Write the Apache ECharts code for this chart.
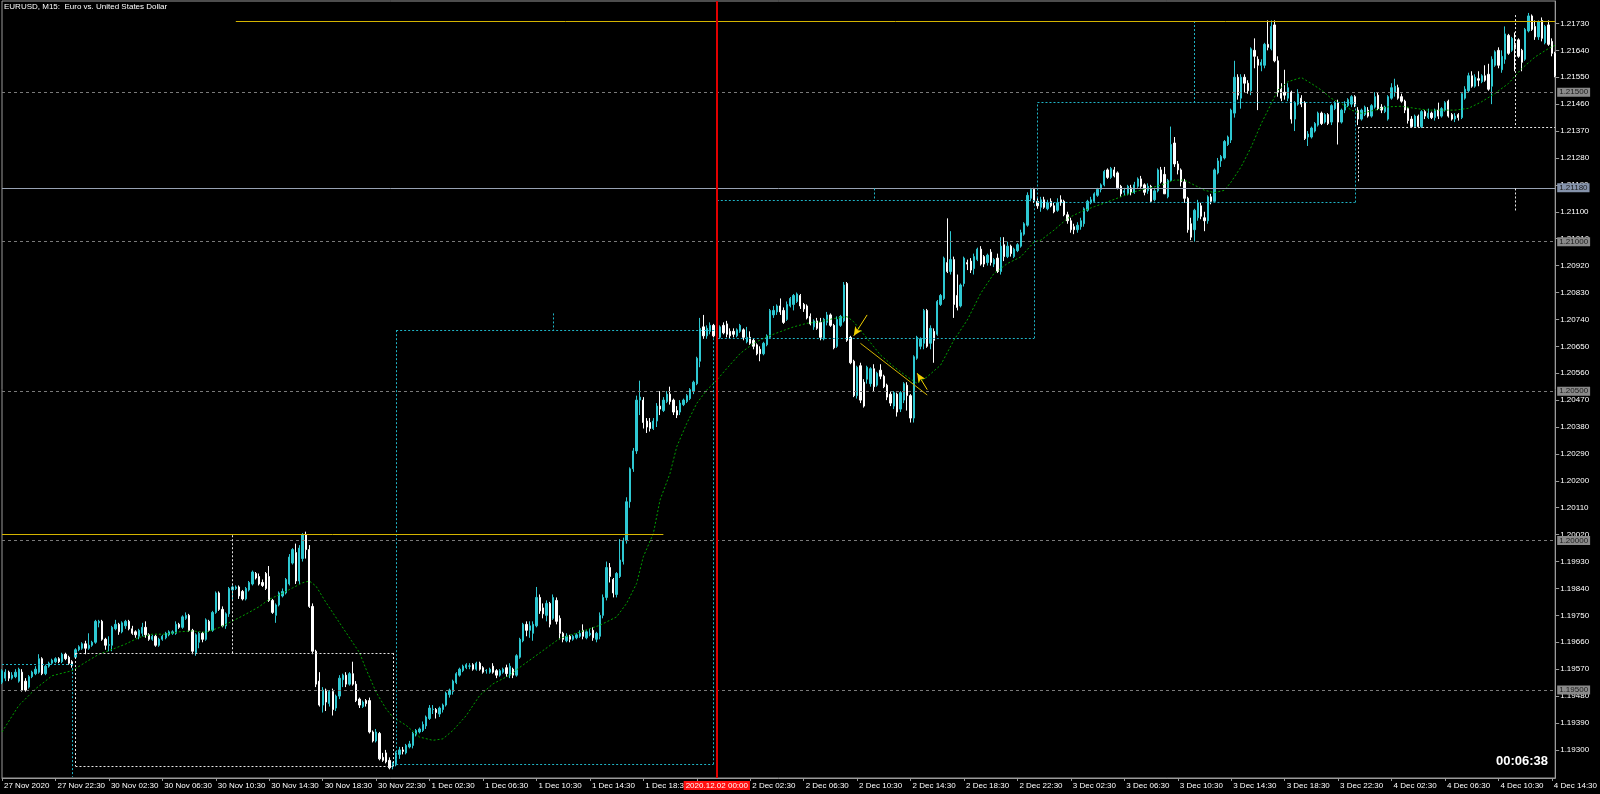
<!DOCTYPE html>
<html>
<head>
<meta charset="utf-8">
<title>EURUSD M15</title>
<script src="https://cdn.jsdelivr.net/npm/echarts@6/dist/echarts.min.js"></script>
<style>
  html, body { margin: 0; padding: 0; background: #000; }
  #chart { width: 1600px; height: 794px; }
</style>
</head>
<body>
<div id="chart"></div>
<script>
// M15 candles, [open, close, low, high]
const nov27 = [
  [1.19526,1.19565,1.19520,1.19570],[1.19540,1.19560,1.19530,1.19570],[1.19560,1.19540,1.19530,1.19565],[1.19540,1.19550,1.19535,1.19560],
  [1.19545,1.19560,1.19540,1.19570],[1.19530,1.19570,1.19525,1.19575],[1.19560,1.19500,1.19495,1.19570],[1.19530,1.19500,1.19495,1.19540],
  [1.19510,1.19545,1.19505,1.19550],[1.19545,1.19560,1.19540,1.19565],[1.19555,1.19570,1.19550,1.19580],[1.19560,1.19605,1.19555,1.19620],
  [1.19605,1.19555,1.19550,1.19610],[1.19555,1.19580,1.19550,1.19585],[1.19580,1.19590,1.19575,1.19595],[1.19590,1.19600,1.19585,1.19605],
  [1.19595,1.19605,1.19590,1.19610],[1.19605,1.19595,1.19590,1.19610],[1.19595,1.19620,1.19590,1.19625],[1.19620,1.19605,1.19600,1.19625],
  [1.19610,1.19590,1.19585,1.19615],[1.19595,1.19585,1.19575,1.19600]
]
const nov30 = [
  [1.19610,1.19635,1.19605,1.19640],[1.19635,1.19645,1.19630,1.19650],[1.19640,1.19655,1.19635,1.19660],[1.19655,1.19640,1.19620,1.19665],
  [1.19640,1.19650,1.19635,1.19690],[1.19650,1.19660,1.19645,1.19665],[1.19660,1.19730,1.19655,1.19735],[1.19725,1.19730,1.19710,1.19735],
  [1.19730,1.19670,1.19665,1.19735],[1.19670,1.19650,1.19635,1.19675],[1.19650,1.19652,1.19630,1.19680],[1.19650,1.19710,1.19630,1.19715],
  [1.19705,1.19720,1.19700,1.19735],[1.19720,1.19695,1.19685,1.19725],[1.19695,1.19725,1.19690,1.19730],[1.19715,1.19730,1.19705,1.19735],
  [1.19730,1.19705,1.19700,1.19735],[1.19705,1.19690,1.19685,1.19715],[1.19695,1.19685,1.19675,1.19700],[1.19680,1.19700,1.19670,1.19705],
  [1.19690,1.19710,1.19680,1.19725],[1.19710,1.19685,1.19675,1.19730],[1.19685,1.19670,1.19665,1.19690],[1.19670,1.19680,1.19665,1.19685],
  [1.19680,1.19650,1.19645,1.19685],[1.19650,1.19670,1.19645,1.19675],[1.19670,1.19680,1.19665,1.19685],[1.19675,1.19690,1.19670,1.19695],
  [1.19685,1.19695,1.19680,1.19700],[1.19690,1.19695,1.19685,1.19700],[1.19690,1.19720,1.19685,1.19730],[1.19720,1.19710,1.19705,1.19725],
  [1.19710,1.19745,1.19705,1.19750],[1.19740,1.19750,1.19735,1.19760],[1.19750,1.19700,1.19695,1.19755],[1.19700,1.19630,1.19620,1.19705],
  [1.19625,1.19685,1.19615,1.19690],[1.19660,1.19690,1.19640,1.19695],[1.19690,1.19670,1.19660,1.19695],[1.19670,1.19735,1.19665,1.19740],
  [1.19730,1.19700,1.19695,1.19735],[1.19700,1.19760,1.19695,1.19765],[1.19760,1.19825,1.19755,1.19830],[1.19825,1.19770,1.19765,1.19830],
  [1.19770,1.19715,1.19710,1.19780],[1.19715,1.19755,1.19705,1.19760],[1.19755,1.19840,1.19745,1.19845],[1.19835,1.19845,1.19800,1.19850],
  [1.19840,1.19845,1.19835,1.19850],[1.19845,1.19815,1.19805,1.19850],[1.19830,1.19805,1.19800,1.19835],[1.19805,1.19840,1.19800,1.19845],
  [1.19835,1.19860,1.19830,1.19865],[1.19855,1.19895,1.19850,1.19900],[1.19890,1.19875,1.19870,1.19895],[1.19880,1.19855,1.19850,1.19890],
  [1.19860,1.19850,1.19845,1.19870],[1.19890,1.19840,1.19835,1.19895],[1.19880,1.19800,1.19795,1.19915],[1.19800,1.19760,1.19755,1.19805],
  [1.19750,1.19785,1.19725,1.19790],[1.19785,1.19825,1.19780,1.19830],[1.19815,1.19830,1.19810,1.19840],[1.19825,1.19870,1.19820,1.19875],
  [1.19855,1.19945,1.19850,1.19955],[1.19925,1.19970,1.19920,1.19975],[1.19960,1.19865,1.19855,1.19990],[1.19865,1.19975,1.19855,1.19985],
  [1.19940,1.20020,1.19930,1.20025],[1.20020,1.19970,1.19940,1.20030],[1.19970,1.19780,1.19775,1.19985],[1.19780,1.19630,1.19620,1.19790],
  [1.19630,1.19520,1.19510,1.19635],[1.19530,1.19450,1.19445,1.19560],[1.19450,1.19500,1.19425,1.19510],[1.19500,1.19460,1.19430,1.19505],
  [1.19455,1.19495,1.19445,1.19500],[1.19495,1.19435,1.19415,1.19505],[1.19440,1.19480,1.19430,1.19485],[1.19480,1.19540,1.19470,1.19550],
  [1.19535,1.19550,1.19510,1.19555],[1.19550,1.19520,1.19510,1.19560],[1.19520,1.19555,1.19515,1.19560],[1.19555,1.19520,1.19515,1.19595],
  [1.19520,1.19465,1.19460,1.19530],[1.19470,1.19450,1.19440,1.19475],[1.19445,1.19460,1.19440,1.19465],[1.19465,1.19455,1.19445,1.19470],
  [1.19465,1.19360,1.19355,1.19475],[1.19360,1.19330,1.19325,1.19365],[1.19330,1.19360,1.19325,1.19370],[1.19355,1.19270,1.19265,1.19360],
  [1.19275,1.19265,1.19260,1.19290],[1.19290,1.19260,1.19255,1.19300],[1.19265,1.19240,1.19235,1.19275],[1.19245,1.19255,1.19235,1.19260]
]
const dec01 = [
  [1.19250,1.19290,1.19245,1.19295],[1.19285,1.19300,1.19270,1.19310],[1.19300,1.19295,1.19285,1.19310],[1.19290,1.19315,1.19285,1.19320],
  [1.19310,1.19320,1.19305,1.19330],[1.19315,1.19355,1.19305,1.19360],[1.19350,1.19365,1.19345,1.19370],[1.19360,1.19370,1.19355,1.19375],
  [1.19365,1.19385,1.19360,1.19395],[1.19380,1.19410,1.19370,1.19415],[1.19405,1.19440,1.19400,1.19450],[1.19435,1.19436,1.19420,1.19450],
  [1.19435,1.19425,1.19405,1.19440],[1.19420,1.19440,1.19410,1.19445],[1.19435,1.19450,1.19425,1.19455],[1.19450,1.19490,1.19445,1.19495],
  [1.19485,1.19500,1.19475,1.19505],[1.19495,1.19530,1.19485,1.19535],[1.19525,1.19555,1.19520,1.19560],[1.19550,1.19570,1.19545,1.19575],
  [1.19565,1.19580,1.19560,1.19585],[1.19575,1.19585,1.19570,1.19590],[1.19580,1.19581,1.19570,1.19590],[1.19585,1.19570,1.19565,1.19590],
  [1.19570,1.19590,1.19565,1.19595],[1.19590,1.19570,1.19565,1.19595],[1.19575,1.19560,1.19555,1.19580],[1.19565,1.19566,1.19555,1.19570],
  [1.19560,1.19570,1.19555,1.19575],[1.19580,1.19560,1.19555,1.19590],[1.19565,1.19550,1.19540,1.19570],[1.19550,1.19565,1.19545,1.19570],
  [1.19560,1.19570,1.19555,1.19575],[1.19575,1.19555,1.19545,1.19585],[1.19550,1.19580,1.19540,1.19590],[1.19570,1.19550,1.19540,1.19575],
  [1.19550,1.19615,1.19545,1.19620],[1.19610,1.19670,1.19605,1.19675],[1.19665,1.19720,1.19660,1.19725],[1.19720,1.19700,1.19680,1.19730],
  [1.19700,1.19715,1.19675,1.19730],[1.19690,1.19720,1.19665,1.19730],[1.19715,1.19810,1.19710,1.19845],[1.19810,1.19765,1.19755,1.19820],
  [1.19775,1.19755,1.19740,1.19790],[1.19750,1.19790,1.19730,1.19800],[1.19790,1.19720,1.19710,1.19795],[1.19740,1.19810,1.19735,1.19820],
  [1.19800,1.19730,1.19720,1.19810],[1.19740,1.19690,1.19670,1.19750],[1.19690,1.19670,1.19660,1.19695],[1.19665,1.19680,1.19660,1.19690],
  [1.19680,1.19670,1.19660,1.19685],[1.19670,1.19680,1.19665,1.19685],[1.19675,1.19685,1.19670,1.19690],[1.19680,1.19690,1.19675,1.19700],
  [1.19700,1.19680,1.19670,1.19720],[1.19675,1.19695,1.19670,1.19700],[1.19685,1.19690,1.19680,1.19705],[1.19700,1.19675,1.19665,1.19710],
  [1.19670,1.19690,1.19660,1.19695],[1.19680,1.19750,1.19670,1.19760],[1.19750,1.19810,1.19740,1.19820],[1.19810,1.19910,1.19800,1.19930],
  [1.19910,1.19880,1.19860,1.19925],[1.19870,1.19825,1.19810,1.19875],[1.19820,1.19890,1.19810,1.19895],[1.19880,1.19935,1.19875,1.20005],
  [1.19930,1.20000,1.19920,1.20010],[1.20000,1.20130,1.19990,1.20145],[1.20130,1.20240,1.20110,1.20245],[1.20240,1.20300,1.20230,1.20310],
  [1.20300,1.20470,1.20290,1.20485],[1.20470,1.20480,1.20420,1.20535],[1.20470,1.20395,1.20375,1.20480],[1.20400,1.20380,1.20360,1.20410],
  [1.20395,1.20375,1.20365,1.20410],[1.20375,1.20400,1.20370,1.20410],[1.20400,1.20450,1.20380,1.20460],[1.20450,1.20440,1.20420,1.20500],
  [1.20435,1.20470,1.20430,1.20480],[1.20465,1.20490,1.20460,1.20500],[1.20490,1.20465,1.20455,1.20515],[1.20470,1.20430,1.20420,1.20475],
  [1.20435,1.20420,1.20410,1.20450],[1.20430,1.20460,1.20420,1.20470],[1.20455,1.20470,1.20450,1.20475],[1.20465,1.20485,1.20460,1.20490],
  [1.20475,1.20505,1.20470,1.20510],[1.20500,1.20530,1.20490,1.20535],[1.20525,1.20610,1.20520,1.20615],[1.20600,1.20710,1.20580,1.20745],
  [1.20715,1.20685,1.20675,1.20755],[1.20685,1.20710,1.20675,1.20720],[1.20700,1.20720,1.20690,1.20730],[1.20720,1.20685,1.20680,1.20725]
]
const dec02 = [
  [1.20680,1.20700,1.20675,1.20710],[1.20680,1.20715,1.20675,1.20720],[1.20720,1.20695,1.20690,1.20730],[1.20725,1.20690,1.20680,1.20735],
  [1.20700,1.20685,1.20675,1.20710],[1.20700,1.20690,1.20680,1.20710],[1.20685,1.20705,1.20680,1.20710],[1.20700,1.20720,1.20695,1.20725],
  [1.20705,1.20680,1.20670,1.20710],[1.20665,1.20680,1.20660,1.20715],[1.20680,1.20660,1.20655,1.20700],[1.20670,1.20650,1.20640,1.20675],
  [1.20655,1.20625,1.20620,1.20660],[1.20640,1.20625,1.20600,1.20650],[1.20625,1.20660,1.20620,1.20665],[1.20655,1.20685,1.20650,1.20690],
  [1.20680,1.20770,1.20675,1.20775],[1.20755,1.20770,1.20745,1.20785],[1.20765,1.20785,1.20755,1.20790],[1.20785,1.20765,1.20755,1.20810],
  [1.20770,1.20730,1.20725,1.20780],[1.20740,1.20790,1.20735,1.20800],[1.20785,1.20810,1.20780,1.20815],[1.20790,1.20820,1.20770,1.20825],
  [1.20800,1.20825,1.20795,1.20830],[1.20820,1.20785,1.20775,1.20825],[1.20790,1.20775,1.20765,1.20795],[1.20785,1.20745,1.20740,1.20790],
  [1.20750,1.20725,1.20720,1.20760],[1.20715,1.20735,1.20705,1.20740],[1.20735,1.20710,1.20705,1.20745],[1.20730,1.20680,1.20670,1.20745],
  [1.20675,1.20740,1.20670,1.20745],[1.20730,1.20755,1.20720,1.20765],[1.20755,1.20720,1.20715,1.20760],[1.20720,1.20645,1.20640,1.20725],
  [1.20650,1.20740,1.20645,1.20750],[1.20720,1.20750,1.20715,1.20755],[1.20735,1.20855,1.20730,1.20865],[1.20860,1.20670,1.20665,1.20865],
  [1.20680,1.20595,1.20590,1.20685],[1.20600,1.20485,1.20480,1.20605],[1.20485,1.20580,1.20475,1.20585],[1.20585,1.20470,1.20460,1.20595],
  [1.20530,1.20450,1.20445,1.20540],[1.20540,1.20580,1.20525,1.20585],[1.20525,1.20575,1.20515,1.20580],[1.20575,1.20515,1.20500,1.20590],
  [1.20520,1.20560,1.20515,1.20565],[1.20570,1.20550,1.20540,1.20590],[1.20550,1.20515,1.20510,1.20555],[1.20520,1.20480,1.20470,1.20525],
  [1.20490,1.20460,1.20450,1.20500],[1.20450,1.20495,1.20440,1.20500],[1.20490,1.20430,1.20415,1.20495],[1.20440,1.20495,1.20430,1.20500],
  [1.20470,1.20525,1.20460,1.20530],[1.20520,1.20485,1.20435,1.20530],[1.20485,1.20410,1.20395,1.20490],[1.20410,1.20615,1.20395,1.20620],
  [1.20610,1.20680,1.20605,1.20685],[1.20650,1.20675,1.20640,1.20680],[1.20660,1.20770,1.20640,1.20775],[1.20770,1.20650,1.20645,1.20775],
  [1.20660,1.20710,1.20640,1.20720],[1.20700,1.20670,1.20595,1.20710],[1.20690,1.20800,1.20685,1.20805],[1.20790,1.20820,1.20785,1.20825],
  [1.20810,1.20945,1.20805,1.20950],[1.20930,1.20900,1.20895,1.21078],[1.20900,1.20940,1.20890,1.21035],[1.20940,1.20790,1.20745,1.20950],
  [1.20820,1.20780,1.20770,1.20890],[1.20785,1.20855,1.20780,1.20860],[1.20860,1.20945,1.20850,1.20950],[1.20930,1.20925,1.20905,1.20940],
  [1.20935,1.20905,1.20895,1.20945],[1.20910,1.20950,1.20890,1.20960],[1.20940,1.20975,1.20935,1.20980],[1.20975,1.20925,1.20920,1.20985],
  [1.20950,1.20925,1.20915,1.20955],[1.20930,1.20955,1.20920,1.20960],[1.20965,1.20930,1.20920,1.20975],[1.20925,1.20940,1.20915,1.20945],
  [1.20945,1.20900,1.20895,1.20960],[1.20900,1.20985,1.20890,1.21015],[1.20990,1.20950,1.20935,1.21015],[1.20950,1.20985,1.20945,1.21000],
  [1.20985,1.20960,1.20950,1.20990],[1.20950,1.20975,1.20945,1.20980],[1.20970,1.20990,1.20965,1.20995],[1.20985,1.21030,1.20980,1.21040],
  [1.21025,1.21060,1.21020,1.21065],[1.21055,1.21155,1.21050,1.21165],[1.21145,1.21175,1.21135,1.21180],[1.21175,1.21135,1.21130,1.21180]
]
const dec03 = [
  [1.21135,1.21120,1.21110,1.21150],[1.21115,1.21140,1.21100,1.21150],[1.21140,1.21115,1.21110,1.21150],[1.21110,1.21130,1.21105,1.21140],
  [1.21135,1.21120,1.21115,1.21145],[1.21120,1.21100,1.21095,1.21130],[1.21105,1.21130,1.21100,1.21145],[1.21140,1.21130,1.21120,1.21155],
  [1.21135,1.21090,1.21085,1.21140],[1.21090,1.21070,1.21060,1.21100],[1.21070,1.21040,1.21030,1.21080],[1.21050,1.21040,1.21025,1.21060],
  [1.21040,1.21055,1.21030,1.21065],[1.21050,1.21070,1.21040,1.21080],[1.21060,1.21110,1.21050,1.21115],[1.21105,1.21135,1.21100,1.21140],
  [1.21130,1.21140,1.21125,1.21150],[1.21135,1.21160,1.21130,1.21165],[1.21155,1.21175,1.21150,1.21180],[1.21175,1.21190,1.21165,1.21195],
  [1.21190,1.21235,1.21185,1.21240],[1.21240,1.21215,1.21210,1.21245],[1.21215,1.21245,1.21210,1.21250],[1.21240,1.21220,1.21215,1.21250],
  [1.21230,1.21180,1.21175,1.21235],[1.21185,1.21160,1.21150,1.21190],[1.21165,1.21170,1.21155,1.21180],[1.21160,1.21185,1.21155,1.21190],
  [1.21180,1.21165,1.21155,1.21190],[1.21165,1.21190,1.21160,1.21200],[1.21185,1.21210,1.21180,1.21215],[1.21210,1.21185,1.21180,1.21220],
  [1.21190,1.21165,1.21155,1.21195],[1.21170,1.21185,1.21160,1.21195],[1.21185,1.21135,1.21130,1.21190],[1.21140,1.21170,1.21135,1.21180],
  [1.21170,1.21240,1.21165,1.21245],[1.21240,1.21200,1.21195,1.21250],[1.21225,1.21160,1.21160,1.21250],[1.21150,1.21205,1.21145,1.21210],
  [1.21205,1.21325,1.21200,1.21385],[1.21330,1.21260,1.21250,1.21350],[1.21260,1.21240,1.21225,1.21270],[1.21240,1.21200,1.21185,1.21245],
  [1.21200,1.21145,1.21130,1.21210],[1.21145,1.21040,1.21030,1.21150],[1.21060,1.21015,1.21005,1.21080],[1.21040,1.21105,1.21000,1.21110],
  [1.21080,1.21130,1.21070,1.21140],[1.21120,1.21085,1.21075,1.21130],[1.21080,1.21070,1.21035,1.21100],[1.21070,1.21150,1.21060,1.21155],
  [1.21150,1.21135,1.21125,1.21160],[1.21135,1.21240,1.21130,1.21245],[1.21230,1.21270,1.21225,1.21280],[1.21270,1.21285,1.21250,1.21290],
  [1.21280,1.21335,1.21275,1.21340],[1.21325,1.21350,1.21320,1.21355],[1.21340,1.21440,1.21330,1.21445],[1.21430,1.21550,1.21415,1.21605],
  [1.21550,1.21490,1.21475,1.21560],[1.21480,1.21550,1.21445,1.21560],[1.21550,1.21530,1.21500,1.21560],[1.21530,1.21505,1.21495,1.21540],
  [1.21505,1.21645,1.21490,1.21650],[1.21640,1.21620,1.21580,1.21680],[1.21610,1.21590,1.21440,1.21620],[1.21590,1.21600,1.21570,1.21610],
  [1.21590,1.21660,1.21580,1.21665],[1.21660,1.21650,1.21640,1.21740],[1.21645,1.21720,1.21640,1.21740],[1.21725,1.21605,1.21600,1.21740],
  [1.21605,1.21500,1.21485,1.21620],[1.21510,1.21480,1.21470,1.21530],[1.21500,1.21490,1.21475,1.21575],[1.21480,1.21515,1.21470,1.21530],
  [1.21500,1.21410,1.21395,1.21505],[1.21410,1.21465,1.21370,1.21470],[1.21460,1.21495,1.21455,1.21510],[1.21480,1.21460,1.21450,1.21490],
  [1.21465,1.21345,1.21340,1.21470],[1.21350,1.21360,1.21320,1.21370],[1.21350,1.21380,1.21345,1.21385],[1.21370,1.21395,1.21365,1.21400],
  [1.21390,1.21430,1.21385,1.21435],[1.21430,1.21395,1.21390,1.21435],[1.21400,1.21425,1.21395,1.21430],[1.21425,1.21395,1.21390,1.21430],
  [1.21400,1.21455,1.21390,1.21460],[1.21445,1.21465,1.21440,1.21470],[1.21465,1.21400,1.21325,1.21475],[1.21400,1.21440,1.21395,1.21445],
  [1.21440,1.21460,1.21430,1.21470],[1.21455,1.21475,1.21450,1.21480],[1.21460,1.21485,1.21450,1.21490],[1.21485,1.21460,1.21450,1.21490]
]
const dec04 = [
  [1.21440,1.21410,1.21390,1.21450],[1.21410,1.21440,1.21405,1.21445],[1.21425,1.21450,1.21420,1.21455],[1.21440,1.21420,1.21415,1.21450],
  [1.21420,1.21455,1.21415,1.21460],[1.21450,1.21485,1.21445,1.21500],[1.21490,1.21445,1.21440,1.21500],[1.21450,1.21440,1.21430,1.21460],
  [1.21435,1.21450,1.21430,1.21455],[1.21410,1.21485,1.21405,1.21490],[1.21480,1.21515,1.21475,1.21530],[1.21500,1.21520,1.21485,1.21545],
  [1.21515,1.21480,1.21475,1.21525],[1.21485,1.21470,1.21465,1.21495],[1.21470,1.21440,1.21430,1.21475],[1.21445,1.21405,1.21395,1.21450],
  [1.21410,1.21385,1.21380,1.21420],[1.21385,1.21420,1.21380,1.21425],[1.21420,1.21385,1.21380,1.21425],[1.21385,1.21435,1.21380,1.21440],
  [1.21435,1.21420,1.21410,1.21440],[1.21415,1.21430,1.21410,1.21445],[1.21430,1.21415,1.21410,1.21435],[1.21415,1.21440,1.21405,1.21445],
  [1.21440,1.21420,1.21410,1.21465],[1.21420,1.21445,1.21415,1.21450],[1.21440,1.21465,1.21435,1.21470],[1.21470,1.21420,1.21415,1.21475],
  [1.21425,1.21410,1.21405,1.21430],[1.21410,1.21420,1.21400,1.21430],[1.21425,1.21415,1.21405,1.21430],[1.21415,1.21495,1.21410,1.21500],
  [1.21480,1.21510,1.21475,1.21520],[1.21505,1.21555,1.21500,1.21565],[1.21555,1.21520,1.21515,1.21570],[1.21520,1.21550,1.21515,1.21560],
  [1.21545,1.21540,1.21520,1.21570],[1.21535,1.21555,1.21530,1.21560],[1.21555,1.21540,1.21535,1.21590],[1.21560,1.21510,1.21505,1.21595],
  [1.21520,1.21610,1.21460,1.21620],[1.21590,1.21635,1.21585,1.21640],[1.21640,1.21590,1.21580,1.21650],[1.21575,1.21620,1.21565,1.21640],
  [1.21610,1.21695,1.21595,1.21720],[1.21690,1.21630,1.21625,1.21695],[1.21640,1.21680,1.21635,1.21685],[1.21660,1.21645,1.21570,1.21700],
  [1.21675,1.21620,1.21615,1.21680],[1.21640,1.21600,1.21570,1.21645],[1.21610,1.21710,1.21605,1.21715],[1.21705,1.21755,1.21700,1.21765],
  [1.21755,1.21710,1.21705,1.21760],[1.21720,1.21685,1.21675,1.21740],[1.21685,1.21735,1.21675,1.21740],[1.21740,1.21680,1.21670,1.21750],
  [1.21665,1.21720,1.21660,1.21725],[1.21725,1.21660,1.21655,1.21740],[1.21670,1.21630,1.21620,1.21680],[1.21630,1.21555,1.21550,1.21635]
]

// trading sessions: day label, first bar (minutes after midnight), bar count
const sessions = [['27 Nov', 1110, 22], ['30 Nov', 0, 96], ['1 Dec', 0, 96], ['2 Dec', 0, 96], ['3 Dec', 0, 96], ['4 Dec', 0, 60]]

// bottom axis labels, one every 16 bars
const tickLabels = [
  '27 Nov 2020', '27 Nov 22:30', '30 Nov 02:30', '30 Nov 06:30', '30 Nov 10:30', '30 Nov 14:30', '30 Nov 18:30', '30 Nov 22:30',
  '1 Dec 02:30', '1 Dec 06:30', '1 Dec 10:30', '1 Dec 14:30', '1 Dec 18:30', '1 Dec 22:30',
  '2 Dec 02:30', '2 Dec 06:30', '2 Dec 10:30', '2 Dec 14:30', '2 Dec 18:30', '2 Dec 22:30',
  '3 Dec 02:30', '3 Dec 06:30', '3 Dec 10:30', '3 Dec 14:30', '3 Dec 18:30', '3 Dec 22:30',
  '4 Dec 02:30', '4 Dec 06:30', '4 Dec 10:30', '4 Dec 14:30'
]

// price scale labels
const priceTicks = [
  1.19300, 1.19390, 1.19480, 1.19570, 1.19660, 1.19750, 1.19840, 1.19930, 1.20020, 1.20110, 1.20200, 1.20290, 1.20380, 1.20470,
  1.20560, 1.20650, 1.20740, 1.20830, 1.20920, 1.21010, 1.21100, 1.21190, 1.21280, 1.21370, 1.21460, 1.21550, 1.21640, 1.21730
]

// moving average (green dotted), [bar index, price]
const maPoints = [
  [0,1.19360],[5,1.19448],[10,1.19504],[15,1.19548],[21,1.19565],[25,1.19593],[29,1.19620],[32,1.19632],[37,1.19654],[41,1.19676],
  [45,1.19687],[49,1.19687],[53,1.19695],[57,1.19698],[61,1.19693],[65,1.19709],[69,1.19731],[73,1.19754],[77,1.19779],[80,1.19804],
  [84,1.19824],[87,1.19842],[90,1.19859],[92,1.19865],[94,1.19848],[97,1.19793],[101,1.19726],[105,1.19659],[107,1.19626],[109,1.19570],
  [112,1.19493],[115,1.19437],[117,1.19410],[121,1.19382],[125,1.19343],[129,1.19332],[132,1.19337],[135,1.19365],[139,1.19415],[143,1.19482],
  [147,1.19521],[152,1.19550],[155,1.19576],[167,1.19673],[173,1.19694],[179,1.19717],[184,1.19745],[187,1.19790],[190,1.19857],[192,1.19946],
  [195,1.20024],[197,1.20136],[200,1.20225],[202,1.20314],[205,1.20392],[208,1.20459],[211,1.20504],[214,1.20537],[217,1.20576],[221,1.20626],
  [225,1.20660],[229,1.20682],[233,1.20699],[237,1.20715],[241,1.20727],[245,1.20732],[249,1.20743],[253,1.20749],[255,1.20732],[259,1.20676],
  [263,1.20621],[267,1.20582],[271,1.20548],[274,1.20526],[277,1.20548],[281,1.20587],[285,1.20671],[289,1.20738],[293,1.20827],[297,1.20894],
  [301,1.20927],[305,1.20949],[309,1.20999],[311,1.21005],[315,1.21039],[319,1.21078],[323,1.21100],[327,1.21117],[331,1.21133],[335,1.21150],
  [339,1.21167],[343,1.21178],[347,1.21189],[351,1.21206],[354,1.21206],[357,1.21189],[360,1.21172],[363,1.21164],[366,1.21172],[368,1.21200],
  [371,1.21251],[374,1.21317],[377,1.21395],[380,1.21462],[382,1.21507],[385,1.21535],[389,1.21549],[392,1.21529],[395,1.21507],[398,1.21479],
  [401,1.21462],[404,1.21440],[407,1.21429],[411,1.21440],[415,1.21451],[419,1.21453],[423,1.21446],[427,1.21440],[431,1.21440],[435,1.21440],
  [439,1.21446],[443,1.21468],[447,1.21496],[451,1.21529],[455,1.21579],[459,1.21618],[463,1.21646],[465,1.21657]
]

// horizontal price levels
const roundLevels = [1.21500, 1.21000, 1.20500, 1.20000, 1.19500]
const pivotLevel = 1.21180

// drawn objects, segments as [[bar, price], [bar, price]]
const cyanSegs = [
  [[0,1.19587],[21,1.19587]], [[21,1.19587],[21,1.19210]],
  [[118,1.20704],[214,1.20704]], [[118,1.20704],[118,1.19251]], [[118,1.19251],[213,1.19251]], [[213,1.20677],[213,1.19251]], [[165,1.20760],[165,1.20704]],
  [[214,1.20677],[309,1.20677]], [[214,1.21137],[309,1.21137]], [[309,1.20677],[309,1.21137]], [[261,1.21178],[261,1.21137]],
  [[310,1.21131],[405,1.21131]], [[310,1.21465],[405,1.21465]], [[310,1.21131],[310,1.21465]], [[405,1.21131],[405,1.21465]], [[357,1.21738],[357,1.21465]]
]
const whiteSegs = [
  [[22,1.19624],[117,1.19624]], [[22,1.19246],[117,1.19246]], [[22,1.19624],[22,1.19246]], [[117,1.19624],[117,1.19246]], [[69,1.20018],[69,1.19624]],
  [[406,1.21383],[465,1.21383]], [[406,1.21383],[406,1.21195]], [[453,1.21758],[453,1.21383]], [[453,1.21178],[453,1.21100]]
]
const yellowSegs = [
  [[70,1.21738],[465,1.21738]], [[0,1.20021],[198,1.20021]], [[257,1.20660],[277,1.20487]]
]
const yellowArrows = [
  [[259,1.20755],[255,1.20685]], [[277,1.20505],[274,1.20560]]
]
const separatorBar = 214

const candles = [...nov27, ...nov30, ...dec01, ...dec02, ...dec03, ...dec04]
const lastBar = candles.length - 1

const pad = n => String(n).padStart(2, '0')
const times = sessions.flatMap(([day, start, count]) =>
  Array.from({ length: count }, (_, k) => {
    const m = start + 15 * k
    return `${day} ${pad(Math.floor(m / 60))}:${pad(m % 60)}`
  })
)

const FONT = 'Liberation Sans'
const CYAN = '#2ec8d2'
const AXIS = '#9a9a9a'

const toSegs = list => list.map(([a, b]) => [{ coord: a }, { coord: b }])

// full-width level line with its price box on the right
const levelLine = (price, lineColor, lineType, boxColor) => [
  { coord: [0, price], lineStyle: { color: lineColor, type: lineType, width: 1 } },
  { coord: [lastBar, price], label: { formatter: price.toFixed(5), backgroundColor: boxColor } }
]

const chart = echarts.init(document.getElementById('chart'))

const option = {
  backgroundColor: '#000000',
  animation: false,
  title: {
    text: 'EURUSD, M15:  Euro vs. United States Dollar',
    left: 4,
    top: 3,
    padding: 0,
    textStyle: { color: '#ffffff', fontSize: 8, fontWeight: 'normal', fontFamily: FONT }
  },
  grid: { left: 2, right: 44, top: 1, bottom: 16, show: true, borderColor: AXIS, borderWidth: 1 },
  xAxis: {
    type: 'category',
    data: times,
    boundaryGap: false,
    axisLine: { lineStyle: { color: AXIS } },
    axisTick: { interval: i => i % 16 === 0, length: 3, lineStyle: { color: AXIS } },
    axisLabel: {
      interval: i => i % 16 === 0,
      formatter: (v, i) => tickLabels[i / 16],
      align: 'left',
      color: '#ffffff',
      fontSize: 8,
      fontFamily: FONT,
      margin: 4,
      padding: [0, 0, 0, 2]
    },
    splitLine: { show: false }
  },
  yAxis: {
    type: 'value',
    position: 'right',
    min: 1.19206,
    max: 1.21805,
    splitLine: { show: false },
    axisLine: { show: true, lineStyle: { color: AXIS } },
    axisTick: { show: true, length: 4, customValues: priceTicks, lineStyle: { color: AXIS } },
    axisLabel: {
      customValues: priceTicks,
      formatter: v => v.toFixed(5),
      color: '#ffffff',
      fontSize: 8,
      fontFamily: FONT,
      margin: 5
    }
  },
  graphic: [{
    type: 'text',
    right: 52,
    bottom: 26,
    style: { text: '00:06:38', fill: '#ffffff', font: 'bold 13px "Liberation Sans"' }
  }],
  series: [
    {
      name: 'levels',
      type: 'line',
      data: [],
      z: 1,
      markLine: {
        silent: true,
        symbol: 'none',
        lineStyle: { color: '#7a7a7a', width: 1, type: [3, 3] },
        label: {
          show: true,
          position: 'end',
          distance: 2,
          color: '#1c1c1c',
          padding: [1, 2, 0, 2],
          fontSize: 8,
          fontFamily: FONT
        },
        data: [
          ...roundLevels.map(v => levelLine(v, '#7a7a7a', [3, 3], '#8a8a8a')),
          levelLine(pivotLevel, '#98a2b3', 'solid', '#8593ab')
        ]
      }
    },
    {
      name: 'cyan boxes',
      type: 'line',
      data: [],
      z: 2,
      markLine: {
        silent: true,
        symbol: 'none',
        label: { show: false },
        lineStyle: { color: '#1fb4c6', width: 1, type: [2, 2] },
        data: toSegs(cyanSegs)
      }
    },
    {
      name: 'white boxes',
      type: 'line',
      data: [],
      z: 2,
      markLine: {
        silent: true,
        symbol: 'none',
        label: { show: false },
        lineStyle: { color: '#e6e6e6', width: 1, type: [2, 2] },
        data: toSegs(whiteSegs)
      }
    },
    {
      name: 'EURUSD',
      type: 'candlestick',
      data: candles,
      barWidth: 1.8,
      z: 3,
      itemStyle: {
        color: CYAN,
        color0: '#ffffff',
        borderColor: CYAN,
        borderColor0: '#ffffff',
        borderWidth: 1
      }
    },
    {
      name: 'MA',
      type: 'line',
      data: maPoints,
      showSymbol: false,
      z: 4,
      lineStyle: { color: '#00a000', width: 1, type: [2, 2] }
    },
    {
      name: 'objects',
      type: 'line',
      data: [],
      z: 5,
      markLine: {
        silent: true,
        symbol: 'none',
        label: { show: false },
        lineStyle: { color: '#d4b400', width: 1, type: 'solid' },
        data: [
          ...toSegs(yellowSegs),
          ...yellowArrows.map(([a, b]) => [
            { coord: a, symbol: 'none' },
            { coord: b, symbol: 'arrow', symbolSize: [6, 9], lineStyle: { color: '#f2d000' } }
          ])
        ]
      }
    },
    {
      name: 'separator',
      type: 'line',
      data: [],
      z: 6,
      markLine: {
        silent: true,
        symbol: 'none',
        lineStyle: { color: '#e00000', width: 2, type: 'solid' },
        label: {
          show: true,
          position: 'start',
          distance: 3,
          formatter: '2020.12.02 00:00',
          color: '#ffffff',
          backgroundColor: '#ff1010',
          padding: [1, 2, 0, 2],
          fontSize: 8,
          fontFamily: FONT
        },
        data: [{ xAxis: separatorBar }]
      }
    }
  ]
}

chart.setOption(option)
</script>
</body>
</html>
